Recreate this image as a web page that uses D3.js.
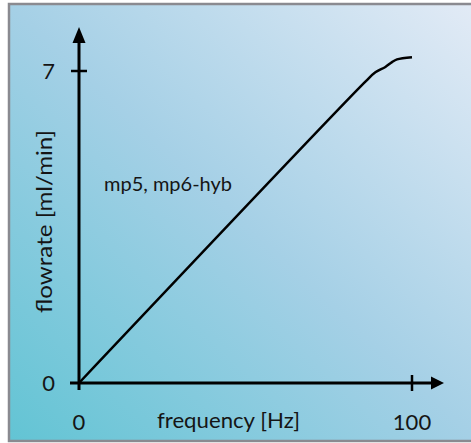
<!DOCTYPE html>
<html><head><meta charset="utf-8">
<script src="https://cdn.jsdelivr.net/npm/d3@7"></script>
<style>html,body{margin:0;padding:0;background:#fff;}svg{display:block;}</style>
</head><body>
<script>
const freq = [0, 86, 89, 92, 94, 95.5, 100];
const flow = [0, 6.76, 6.97, 7.09, 7.2, 7.26, 7.31];
const xTicks = [0, 100];
const yTicks = [0, 7];
const seriesLabel = "mp5, mp6-hyb";
const xTitle = "frequency  [Hz]";
const yTitle = "flowrate [ml/min]";

const W = 471, H = 443;
const svg = d3.select("body").append("svg").attr("width", W).attr("height", H);
const defs = svg.append("defs");
const g = defs.append("linearGradient").attr("id","bg")
  .attr("x1","0").attr("y1","1").attr("x2","1").attr("y2","0");
g.append("stop").attr("offset","0").attr("stop-color","#62c4d4");
g.append("stop").attr("offset","0.5").attr("stop-color","#a5d0e6");
g.append("stop").attr("offset","1").attr("stop-color","#e3ebf6");

svg.append("rect").attr("x",9).attr("y",4).attr("width",470).attr("height",437)
  .attr("fill","url(#bg)").attr("stroke","#8a8a90").attr("stroke-width",2.5);

const x = d3.scaleLinear().domain([0,100]).range([79,412]);
const y = d3.scaleLinear().domain([0,7]).range([383,71]);

// axes
svg.append("line").attr("x1",x(0)).attr("x2",x(0)).attr("y1",390).attr("y2",42)
  .attr("stroke","#000").attr("stroke-width",3);
svg.append("path").attr("d",`M${x(0)},27 L${x(0)-6.5},43 L${x(0)+6.5},43 Z`).attr("fill","#000");
svg.append("line").attr("x1",70).attr("x2",432).attr("y1",y(0)).attr("y2",y(0))
  .attr("stroke","#000").attr("stroke-width",3);
svg.append("path").attr("d",`M444,${y(0)} L431,${y(0)-6.5} L431,${y(0)+6.5} Z`).attr("fill","#000");

// ticks
svg.append("line").attr("x1",71).attr("x2",87).attr("y1",y(7)).attr("y2",y(7))
  .attr("stroke","#000").attr("stroke-width",2.5);
svg.append("line").attr("x1",x(100)).attr("x2",x(100)).attr("y1",375).attr("y2",391)
  .attr("stroke","#000").attr("stroke-width",2.5);

const font = "Lato, 'Open Sans', sans-serif";
svg.selectAll("text.yt").data(yTicks).enter().append("text")
  .attr("x",55).attr("y",d=>y(d)+8).attr("text-anchor","end")
  .attr("font-family",font).attr("font-size",22).attr("fill","#151515").text(d=>d);
svg.selectAll("text.xt").data(xTicks).enter().append("text")
  .attr("x",d=>x(d)).attr("y",430).attr("text-anchor","middle")
  .attr("font-family",font).attr("font-size",22).attr("fill","#151515").text(d=>d);

svg.append("text").attr("x",157).attr("y",428)
  .attr("font-family",font).attr("font-size",22).attr("fill","#151515")
  .attr("textLength",143).attr("lengthAdjust","spacingAndGlyphs").text(xTitle);
svg.append("text").attr("transform","translate(52,313) rotate(-90)")
  .attr("font-family",font).attr("font-size",22).attr("fill","#151515")
  .attr("textLength",183).attr("lengthAdjust","spacingAndGlyphs").text(yTitle);
svg.append("text").attr("x",104).attr("y",191)
  .attr("font-family",font).attr("font-size",19.5).attr("fill","#151515")
  .attr("textLength",128).attr("lengthAdjust","spacingAndGlyphs").text(seriesLabel);

const line = d3.line().x(d=>x(d[0])).y(d=>y(d[1])).curve(d3.curveCatmullRom);
svg.append("path").datum(freq.map((f,i)=>[f,flow[i]])).attr("d",line)
  .attr("fill","none").attr("stroke","#000").attr("stroke-width",2.5).attr("stroke-linejoin","round");
</script>
</body></html>
